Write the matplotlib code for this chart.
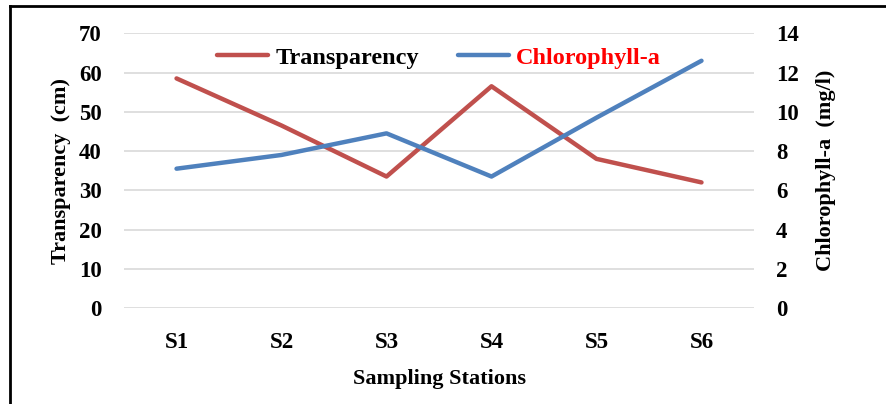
import matplotlib.pyplot as plt
from matplotlib.lines import Line2D

stations = ['S1', 'S2', 'S3', 'S4', 'S5', 'S6']
transparency = [58.5, 46.5, 33.5, 56.5, 38.0, 32.0]
chlorophyll = [7.1, 7.8, 8.9, 6.7, 9.7, 12.6]

plt.rcParams['font.family'] = 'Liberation Serif'
plt.rcParams['font.weight'] = 'bold'
plt.rcParams['axes.labelweight'] = 'bold'

fig = plt.figure(figsize=(8.86, 4.04), dpi=100)
ax = fig.add_axes([0.14, 0.2376, 0.711, 0.68])
ax2 = ax.twinx()

x = range(len(stations))
l1, = ax.plot(x, transparency, color='#C0504D', lw=3.2, solid_capstyle='round')
l2, = ax2.plot(x, chlorophyll, color='#4F81BD', lw=3.2, solid_capstyle='round')

ax.set_xlim(-0.5, 5.5)
ax.set_ylim(0, 70)
ax.set_yticks(range(0, 71, 10))
ax2.set_ylim(0, 14)
ax2.set_yticks(range(0, 15, 2))
ax.set_xticks(list(x))
ax.set_xticklabels(stations)

ax.grid(axis='y', color='#D9D9D9', lw=1.2)
ax.set_axisbelow(True)
for a in (ax, ax2):
    for s in a.spines.values():
        s.set_visible(False)
    a.tick_params(length=0, labelsize=16.5)
ax.tick_params(axis='y', pad=16)
ax.tick_params(axis='x', pad=17)
ax2.tick_params(axis='y', pad=16)

ax.set_xlabel('Sampling Stations', fontsize=16, labelpad=12)
ax.set_ylabel('Transparency  (cm)', fontsize=16, labelpad=6)
ax2.set_ylabel('Chlorophyll-a  (mg/l)', fontsize=16, labelpad=12)

leg = ax.legend([l1, l2], ['Transparency', 'Chlorophyll-a'], loc='upper center',
                bbox_to_anchor=(0.5, 1.03), ncol=2, frameon=False, fontsize=17.5,
                handlelength=2.1, columnspacing=1.6, handletextpad=0.3)
leg.get_texts()[1].set_color('red')

# frame around the figure
fig.add_artist(Line2D([10/886, 10/886], [0, 1 - 6/404], color='black', lw=2))
fig.add_artist(Line2D([10/886, 1], [1 - 6/404, 1 - 6/404], color='black', lw=2))

fig.savefig('out.png', dpi=100)
